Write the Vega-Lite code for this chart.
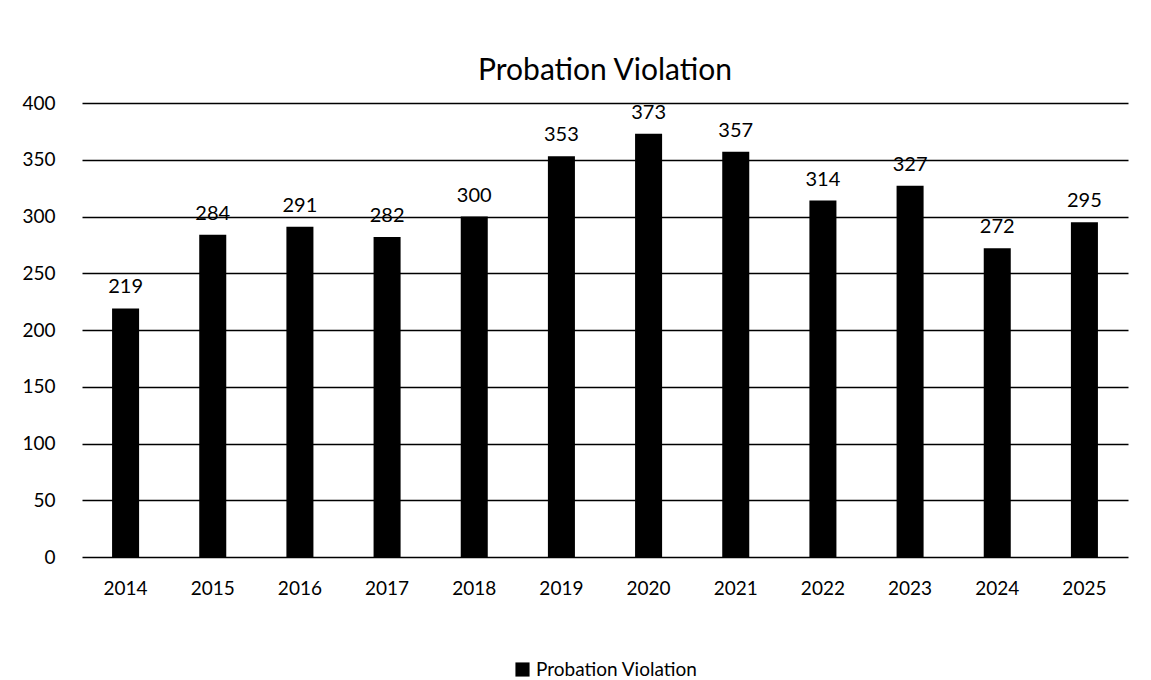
{
  "$schema": "https://vega.github.io/schema/vega-lite/v6.json",
  "autosize": "none",
  "width": 1046,
  "height": 454,
  "padding": {"left": 82, "top": 103, "right": 23, "bottom": 123},
  "background": "white",
  "title": {"text": "Probation Violation", "fontSize": 30, "font": "Lato", "fontWeight": "normal", "color": "black", "offset": 8, "anchor": "middle"},
  "data": {"values": [
    {"year": "2014", "value": 219, "series": "Probation Violation"},
    {"year": "2015", "value": 284, "series": "Probation Violation"},
    {"year": "2016", "value": 291, "series": "Probation Violation"},
    {"year": "2017", "value": 282, "series": "Probation Violation"},
    {"year": "2018", "value": 300, "series": "Probation Violation"},
    {"year": "2019", "value": 353, "series": "Probation Violation"},
    {"year": "2020", "value": 373, "series": "Probation Violation"},
    {"year": "2021", "value": 357, "series": "Probation Violation"},
    {"year": "2022", "value": 314, "series": "Probation Violation"},
    {"year": "2023", "value": 327, "series": "Probation Violation"},
    {"year": "2024", "value": 272, "series": "Probation Violation"},
    {"year": "2025", "value": 295, "series": "Probation Violation"}
  ]},
  "encoding": {
    "x": {"field": "year", "type": "nominal", "title": null,
      "scale": {"paddingInner": 0.69, "paddingOuter": 0.345},
      "axis": {"labelAngle": 0, "domain": false, "ticks": false, "labelFontSize": 19, "labelFont": "Lato", "labelColor": "black", "labelPadding": 22}},
    "y": {"field": "value", "type": "quantitative", "title": null,
      "scale": {"domain": [0, 400]},
      "axis": {"values": [0, 50, 100, 150, 200, 250, 300, 350, 400], "domain": false, "ticks": false, "grid": true, "gridColor": "black", "gridWidth": 1.5, "gridOpacity": 1, "labelFontSize": 19, "labelFont": "Lato", "labelColor": "black", "labelPadding": 27}}
  },
  "layer": [
    {"mark": {"type": "bar", "color": "black"},
     "encoding": {"color": {"field": "series", "type": "nominal", "title": null,
       "scale": {"range": ["black"]},
       "legend": {"orient": "bottom", "direction": "horizontal", "offset": 62, "symbolType": "square", "symbolSize": 200, "labelFontSize": 19, "labelFont": "Lato", "labelColor": "black", "labelLimit": 500, "symbolStrokeWidth": 0, "symbolFillColor": "black", "labelOffset": 4}}}},
    {"mark": {"type": "text", "dy": -21, "fontSize": 20, "font": "Lato", "color": "black"},
     "encoding": {"text": {"field": "value", "type": "quantitative"}}}
  ],
  "config": {"view": {"stroke": null}, "legend": {"layout": {"bottom": {"anchor": "middle"}}}}
}
